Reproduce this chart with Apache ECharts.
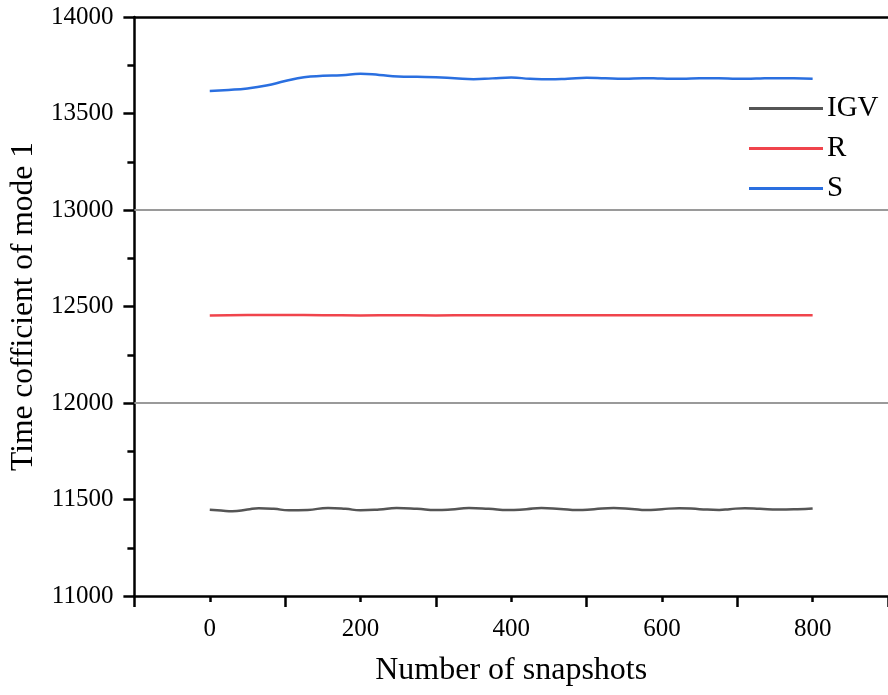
<!DOCTYPE html>
<html>
<head>
<meta charset="utf-8">
<script src="https://cdn.jsdelivr.net/npm/echarts@6/dist/echarts.min.js"></script>
<style>html,body{margin:0;padding:0;background:#fff}#c{width:888px;height:695px}</style>
</head>
<body>
<div id="c"></div>
<script>
var seriesNames = ['IGV', 'R', 'S'];

var igvX = [0, 15, 30, 50, 65, 85, 105, 130, 157, 180, 200, 225, 248, 275, 300, 320, 344, 370, 396, 420, 440, 465, 488, 510, 536, 560, 579, 600, 623, 650, 676, 690, 710, 730, 754, 780, 800];
var igvY = [11447, 11443, 11439, 11448, 11455, 11452, 11444, 11446, 11456, 11452, 11444, 11448, 11456, 11452, 11445, 11448, 11456, 11452, 11445, 11450, 11456, 11451, 11445, 11450, 11456, 11451, 11445, 11450, 11455, 11450, 11446, 11450, 11455, 11452, 11448, 11450, 11454];

var rX = [0, 50, 100, 150, 200, 250, 300, 350, 400, 450, 500, 550, 600, 650, 700, 750, 800];
var rY = [12454, 12456, 12456, 12455, 12454, 12455, 12454, 12455, 12455, 12455, 12455, 12455, 12455, 12455, 12455, 12455, 12455];

var sX = [0, 25, 50, 75, 100, 125, 150, 175, 200, 225, 250, 275, 300, 325, 350, 375, 400, 425, 450, 475, 500, 525, 550, 575, 600, 625, 650, 675, 700, 725, 750, 775, 800];
var sY = [13617, 13622, 13630, 13645, 13668, 13688, 13695, 13698, 13706, 13700, 13692, 13690, 13688, 13683, 13678, 13682, 13686, 13680, 13677, 13680, 13685, 13682, 13680, 13683, 13681, 13680, 13682, 13683, 13680, 13681, 13683, 13682, 13680];

var xTickLabels = [0, 200, 400, 600, 800];
var refLines = [12000, 13000];

function pairs(xs, ys) { return xs.map(function (x, i) { return [x, ys[i]]; }); }

var font = 'Liberation Serif';
var chart = echarts.init(document.getElementById('c'));
chart.setOption({
  animation: false,
  backgroundColor: '#fff',
  grid: { left: 133, top: 17, bottom: 99, right: -10, containLabel: false },
  legend: {
    orient: 'vertical', left: 744, top: 89,
    icon: 'rect', itemWidth: 74, itemHeight: 3, itemGap: 11,
    textStyle: { fontFamily: font, fontSize: 29, color: '#000', padding: [0, 0, 0, -1] },
    data: seriesNames
  },
  xAxis: [{
    type: 'value', min: -100, max: 900, interval: 200,
    name: 'Number of snapshots', nameLocation: 'middle', nameGap: 59,
    nameTextStyle: { fontFamily: font, fontSize: 32, color: '#000' },
    axisLine: { onZero: false, lineStyle: { color: '#000', width: 2.5 } },
    axisTick: { show: true, inside: false, length: 11, lineStyle: { width: 2.5, color: '#000' } },
    minorTick: { show: true, splitNumber: 2, length: 6, lineStyle: { width: 2.5, color: '#000' } },
    axisLabel: { fontFamily: font, fontSize: 25, color: '#000', margin: 21,
      customValues: xTickLabels, formatter: function (v) { return String(v); } },
    splitLine: { show: false }
  }, {
    type: 'value', position: 'top', min: -100, max: 900,
    axisLine: { show: true, onZero: false, lineStyle: { color: '#000', width: 2.5 } },
    axisTick: { show: false }, axisLabel: { show: false }, splitLine: { show: false }
  }],
  yAxis: [{
    type: 'value', min: 11000, max: 14000, interval: 500,
    name: 'Time cofficient of mode 1', nameLocation: 'middle', nameGap: 92,
    nameTextStyle: { fontFamily: font, fontSize: 31.5, color: '#000' },
    axisLine: { show: true, onZero: false, lineStyle: { color: '#000', width: 2.5 } },
    axisTick: { show: true, inside: false, length: 11, lineStyle: { width: 2.5, color: '#000' } },
    minorTick: { show: true, splitNumber: 2, length: 7, lineStyle: { width: 2.5, color: '#000' } },
    axisLabel: { fontFamily: font, fontSize: 25, color: '#000', margin: 21,
      formatter: function (v) { return String(v); } },
    splitLine: { show: false }
  }],
  series: [{
    name: 'IGV', type: 'line', data: pairs(igvX, igvY), smooth: true, symbol: 'none',
    lineStyle: { color: '#555555', width: 2.5 }, itemStyle: { color: '#555555' },
    markLine: {
      silent: true, symbol: 'none', label: { show: false },
      lineStyle: { color: '#9a9a9a', width: 2, type: 'solid' },
      data: refLines.map(function (v) { return { yAxis: v }; })
    }
  }, {
    name: 'R', type: 'line', data: pairs(rX, rY), smooth: true, symbol: 'none',
    lineStyle: { color: '#f0444c', width: 2.5 }, itemStyle: { color: '#f0444c' }
  }, {
    name: 'S', type: 'line', data: pairs(sX, sY), smooth: true, symbol: 'none',
    lineStyle: { color: '#2a6fe0', width: 2.5 }, itemStyle: { color: '#2a6fe0' }
  }]
});
</script>
</body>
</html>
